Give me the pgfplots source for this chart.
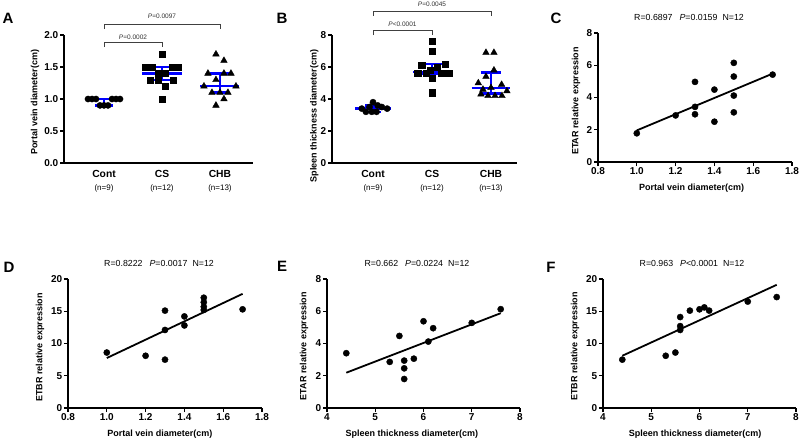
\documentclass[border=0pt]{standalone}
\usepackage{pgfplots}
\pgfplotsset{compat=1.18}
\usepackage{fontspec}
\setmainfont{Liberation Sans}

\pgfplotsset{
  gp/.style={
    scale only axis,
    anchor=south west,
    axis x line=bottom, axis y line=left,
    axis line style={-, line width=1.3pt},
    tick align=outside,
    major tick length=4pt,
    tick style={line width=1.3pt, black},
    ticklabel style={font=\fontsize{10}{12}\selectfont\bfseries, inner sep=1.5pt},
    /pgf/number format/assume math mode=true,
    clip=false,
    every axis x label/.style={at={(axis description cs:0.5,0)}, anchor=center, yshift=-26pt,
      font=\fontsize{9}{10}\selectfont\bfseries},
    every axis y label/.style={rotate=90, anchor=center,
      font=\fontsize{9}{10}\selectfont\bfseries},
  },
  dec1/.style={#1ticklabel style={/pgf/number format/fixed, /pgf/number format/fixed zerofill,
      /pgf/number format/precision=1}},
  dot/.style={only marks, mark=*, mark size=3.1pt, black, mark options={fill=black}},
  med/.style={blue, line width=2.3pt, forget plot},
  brk/.style={black!75, line width=0.8pt},
}
\newcommand{\ptxt}{\fontsize{6.5}{7}\selectfont\color{black!80}}
\newcommand{\cat}{\fontsize{10.3}{12}\selectfont\bfseries}
\newcommand{\nn}{\fontsize{8}{9}\selectfont}

\begin{document}
\begin{tikzpicture}
\fill[white] (0pt,0pt) rectangle (800pt,-440pt);
\useasboundingbox (0pt,0pt) rectangle (800pt,-440pt);

% ---- A: portal vein diameter ----
\begin{axis}[gp, at={(64pt,-163pt)}, width=189pt, height=128pt,
    xmin=0.31, xmax=3.57, ymin=0, ymax=2,
    xtick=\empty, ytick={0,0.5,1,1.5,2}, dec1=y,
    ylabel={Portal vein diameter(cm)},
    ylabel style={at={(axis description cs:-0.153,0.473)}}]
\addplot[dot] coordinates {
 (0.724,1.0)(0.793,1.0)(0.862,1.0)(1.138,1.0)(1.207,1.0)(1.276,1.0)
 (0.931,0.9)(1.0,0.9)(1.069,0.9)};
\addplot[dot, mark=square*, mark size=3.1pt] coordinates {
 (2.0,1.7)(1.712,1.5)(1.828,1.5)(2.172,1.5)(2.276,1.5)(1.943,1.4)(2.057,1.4)
 (1.793,1.3)(1.931,1.3)(2.19,1.3)(2.052,1.2)(2.0,1.0)};
\addplot[dot, mark=triangle*, mark size=3.8pt] coordinates {
 (2.931,1.7)(3.069,1.6)(2.793,1.4)(3.069,1.4)(3.19,1.4)(2.931,1.3)
 (2.724,1.2)(3.276,1.2)(2.862,1.1)(3.0,1.1)(3.138,1.1)(3.069,1.0)(2.931,0.9)};
% median and interquartile range
\addplot[med] coordinates {(0.67,1.0)(1.33,1.0)};
\addplot[med] coordinates {(1.0,1.0)(1.0,0.9)};
\addplot[med] coordinates {(0.845,0.9)(1.155,0.9)};
\addplot[med] coordinates {(1.66,1.4)(2.34,1.4)};
\addplot[med] coordinates {(2.0,1.3)(2.0,1.5)};
\addplot[med] coordinates {(1.845,1.5)(2.155,1.5)};
\addplot[med] coordinates {(1.845,1.3)(2.155,1.3)};
\addplot[med] coordinates {(2.66,1.2)(3.33,1.2)};
\addplot[med] coordinates {(3.0,1.1)(3.0,1.4)};
\addplot[med] coordinates {(2.83,1.4)(3.17,1.4)};
\addplot[med] coordinates {(2.845,1.1)(3.155,1.1)};
% significance brackets
\addplot[brk] coordinates {(1,1.81)(1,1.89)(2,1.89)(2,1.81)};
\addplot[brk] coordinates {(1,2.09)(1,2.17)(3,2.17)(3,2.09)};
\node[font=\ptxt] at (axis cs:1.5,1.97) {\textit{P}=0.0002};
\node[font=\ptxt] at (axis cs:2,2.29) {\textit{P}=0.0097};
\node[font=\cat, yshift=-11pt] at (axis cs:1,0) {Cont};
\node[font=\cat, yshift=-11pt] at (axis cs:2,0) {CS};
\node[font=\cat, yshift=-11pt] at (axis cs:3,0) {CHB};
\node[font=\nn, yshift=-25pt] at (axis cs:1,0) {(n=9)};
\node[font=\nn, yshift=-25pt] at (axis cs:2,0) {(n=12)};
\node[font=\nn, yshift=-25pt] at (axis cs:3,0) {(n=13)};
\end{axis}

% ---- B: spleen thickness ----
\begin{axis}[gp, at={(332pt,-163pt)}, width=185pt, height=128pt,
    xmin=0.305, xmax=3.441, ymin=0, ymax=8,
    xtick=\empty, ytick={0,2,4,6,8},
    ylabel={Spleen thickness diameter(cm)},
    ylabel style={at={(axis description cs:-0.096,0.367)}}]
\addplot[dot] coordinates {
 (0.81,3.4)(1.0,3.8)(1.08,3.6)(1.24,3.4)(0.88,3.2)(0.98,3.2)(1.06,3.2)
 (0.94,3.5)(1.15,3.5)};
\addplot[dot, mark=square*, mark size=3.1pt] coordinates {
 (2.0,7.6)(2.0,7.0)(2.226,6.2)(1.825,6.1)(2.085,6.0)(1.966,5.8)
 (1.757,5.6)(1.898,5.6)(2.153,5.6)(2.282,5.6)(2.0,5.3)(2.0,4.4)};
\addplot[dot, mark=triangle*, mark size=3.8pt] coordinates {
 (2.915,6.9)(3.05,6.9)(3.05,5.8)(2.915,5.4)(2.785,5.0)(3.18,4.9)(3.0,4.7)
 (2.864,4.6)(3.27,4.5)(2.83,4.3)(2.95,4.2)(3.068,4.2)(3.186,4.2)};
\addplot[med] coordinates {(0.695,3.4)(1.305,3.4)};
\addplot[med] coordinates {(1.0,3.2)(1.0,3.6)};
\addplot[med] coordinates {(0.87,3.6)(1.13,3.6)};
\addplot[med] coordinates {(0.87,3.2)(1.13,3.2)};
\addplot[med] coordinates {(1.68,5.7)(2.33,5.7)};
\addplot[med] coordinates {(2.0,5.55)(2.0,6.2)};
\addplot[med] coordinates {(1.83,6.2)(2.17,6.2)};
\addplot[med] coordinates {(1.83,5.55)(2.17,5.55)};
\addplot[med] coordinates {(2.67,4.7)(3.33,4.7)};
\addplot[med] coordinates {(3.0,4.35)(3.0,5.65)};
\addplot[med] coordinates {(2.83,5.65)(3.17,5.65)};
\addplot[med] coordinates {(2.83,4.35)(3.17,4.35)};
\addplot[brk] coordinates {(1,7.99)(1,8.3)(2,8.3)(2,7.99)};
\addplot[brk] coordinates {(1,9.19)(1,9.5)(3,9.5)(3,9.19)};
\node[font=\ptxt] at (axis cs:1.5,8.67) {\textit{P}<0.0001};
\node[font=\ptxt] at (axis cs:2,9.9) {\textit{P}=0.0045};
\node[font=\cat, yshift=-11pt] at (axis cs:1,0) {Cont};
\node[font=\cat, yshift=-11pt] at (axis cs:2,0) {CS};
\node[font=\cat, yshift=-11pt] at (axis cs:3,0) {CHB};
\node[font=\nn, yshift=-25pt] at (axis cs:1,0) {(n=9)};
\node[font=\nn, yshift=-25pt] at (axis cs:2,0) {(n=12)};
\node[font=\nn, yshift=-25pt] at (axis cs:3,0) {(n=13)};
\end{axis}

% ---- C: ETAR vs portal vein ----
\begin{axis}[gp, at={(598pt,-162pt)}, width=194pt, height=129pt,
    xmin=0.8, xmax=1.8, ymin=0, ymax=8,
    xtick={0.8,1.0,1.2,1.4,1.6,1.8}, dec1=x, ytick={0,2,4,6,8},
    xlabel={Portal vein diameter(cm)}, ylabel={ETAR relative expression},
    xlabel style={at={(axis description cs:0.483,0)}},
    ylabel style={at={(axis description cs:-0.113,0.473)}}]
\addplot[dot] coordinates {
 (1.0,1.78)(1.2,2.89)(1.3,4.97)(1.3,3.42)(1.3,2.96)(1.4,4.49)(1.4,2.5)
 (1.5,6.15)(1.5,5.3)(1.5,4.12)(1.5,3.08)(1.7,5.42)};
\addplot[black, line width=1.8pt] coordinates {(1.0,1.96)(1.7,5.48)};
\end{axis}

% ---- D: ETBR vs portal vein ----
\begin{axis}[gp, at={(68pt,-408pt)}, width=194pt, height=129pt,
    xmin=0.8, xmax=1.8, ymin=0, ymax=20,
    xtick={0.8,1.0,1.2,1.4,1.6,1.8}, dec1=x, ytick={0,5,10,15,20},
    xlabel={Portal vein diameter(cm)}, ylabel={ETBR relative expression},
    xlabel style={at={(axis description cs:0.474,0)}},
    ylabel style={at={(axis description cs:-0.144,0.469)}}]
\addplot[dot] coordinates {
 (1.0,8.6)(1.2,8.1)(1.3,15.1)(1.3,12.1)(1.3,7.5)(1.4,14.2)(1.4,12.8)
 (1.5,17.1)(1.5,16.4)(1.5,15.7)(1.5,15.2)(1.7,15.3)};
\addplot[black, line width=1.8pt] coordinates {(1.0,7.75)(1.7,17.7)};
\end{axis}

% ---- E: ETAR vs spleen ----
\begin{axis}[gp, at={(327pt,-408pt)}, width=193pt, height=129pt,
    xmin=4, xmax=8, ymin=0, ymax=8,
    xtick={4,5,6,7,8}, ytick={0,2,4,6,8},
    xlabel={Spleen thickness diameter(cm)}, ylabel={ETAR relative expression},
    xlabel style={at={(axis description cs:0.44,0)}},
    ylabel style={at={(axis description cs:-0.119,0.48)}}]
\addplot[dot] coordinates {
 (4.4,3.4)(5.3,2.86)(5.5,4.47)(5.6,2.94)(5.6,2.46)(5.6,1.8)(5.8,3.06)
 (6.0,5.38)(6.2,4.95)(6.1,4.12)(7.0,5.28)(7.6,6.13)};
\addplot[black, line width=1.8pt] coordinates {(4.4,2.19)(7.6,5.88)};
\end{axis}

% ---- F: ETBR vs spleen ----
\begin{axis}[gp, at={(603pt,-408pt)}, width=193pt, height=129pt,
    xmin=4, xmax=8, ymin=0, ymax=20,
    xtick={4,5,6,7,8}, ytick={0,5,10,15,20},
    xlabel={Spleen thickness diameter(cm)}, ylabel={ETBR relative expression},
    xlabel style={at={(axis description cs:0.477,0)}},
    ylabel style={at={(axis description cs:-0.145,0.478)}}]
\addplot[dot] coordinates {
 (4.4,7.5)(5.3,8.1)(5.5,8.6)(5.6,14.1)(5.6,12.7)(5.6,12.1)(5.8,15.1)
 (6.0,15.3)(6.1,15.6)(6.2,15.1)(7.0,16.5)(7.6,17.2)};
\addplot[black, line width=1.8pt] coordinates {(4.4,8.1)(7.6,19.1)};
\end{axis}

% panel letters and titles
\begin{scope}[every node/.style={font=\fontsize{15}{15}\selectfont\bfseries}]
\node at (8pt,-18pt) {A};
\node at (282pt,-18pt) {B};
\node at (556pt,-18pt) {C};
\node at (9pt,-267pt) {D};
\node at (282pt,-266pt) {E};
\node at (551pt,-267pt) {F};
\end{scope}
\begin{scope}[every node/.style={font=\fontsize{8.8}{10}\selectfont}]
\node at (689pt,-17pt) {R=0.6897\hspace{7pt}\textit{P}=0.0159\hspace{5pt}N=12};
\node at (159pt,-263pt) {R=0.8222\hspace{7pt}\textit{P}=0.0017\hspace{5pt}N=12};
\node at (417pt,-263pt) {R=0.662\hspace{7pt}\textit{P}=0.0224\hspace{5pt}N=12};
\node at (692pt,-263pt) {R=0.963\hspace{7pt}\textit{P}<0.0001\hspace{5pt}N=12};
\end{scope}
\end{tikzpicture}
\end{document}
